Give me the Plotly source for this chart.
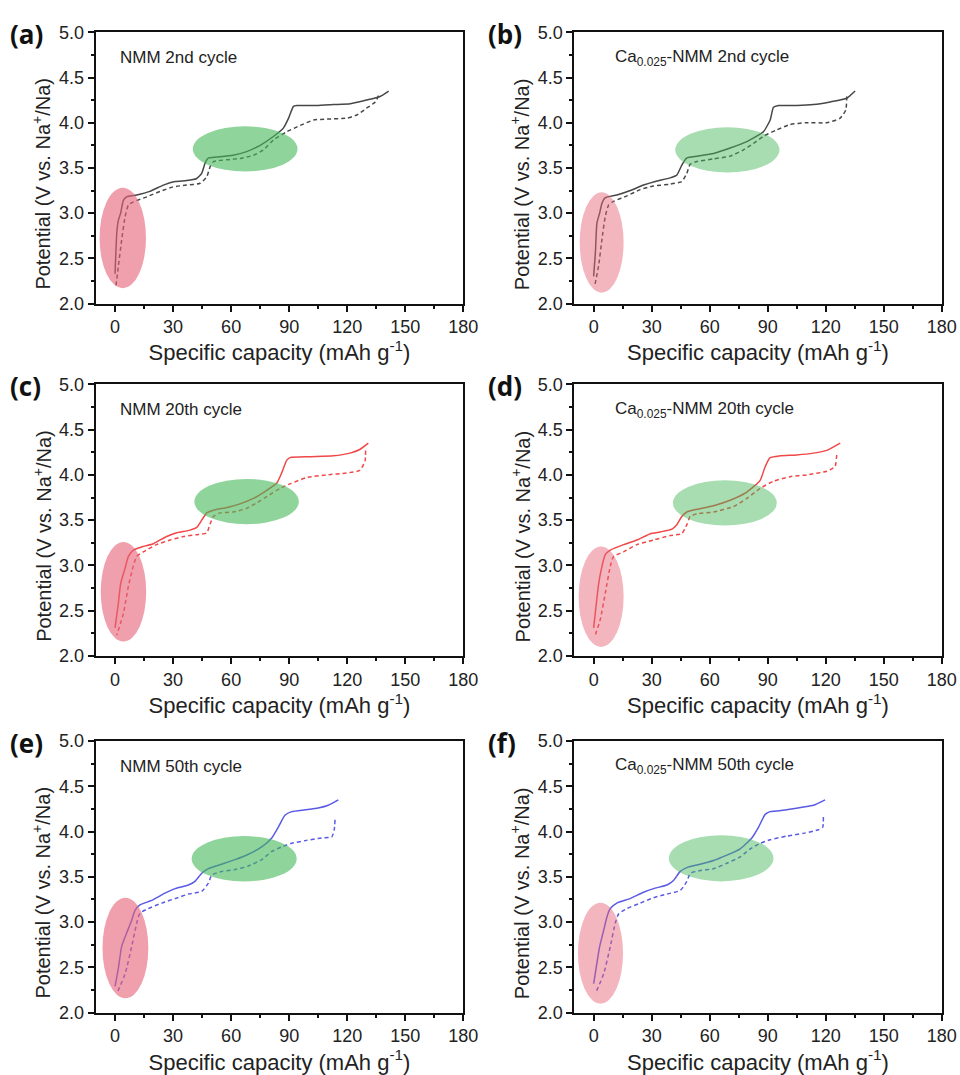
import plotly.graph_objects as go

# ---------------- data (capacity in mAh/g, potential in V) ----------------
a_chg_cap = [0, 0.9, 1.7, 2.9, 4.3, 6, 11.2, 18, 25, 31, 37, 42, 44.8, 46.5, 48.3, 52.6, 61, 68, 75, 82, 87, 89.7, 92.2, 94, 104, 113, 121.6, 130, 137, 141.4]
a_chg_v = [2.33, 2.78, 2.92, 3.0, 3.14, 3.18, 3.2, 3.24, 3.31, 3.35, 3.36, 3.38, 3.44, 3.55, 3.61, 3.62, 3.64, 3.68, 3.75, 3.85, 3.94, 4.05, 4.18, 4.19, 4.19, 4.2, 4.21, 4.25, 4.29, 4.35]
a_dis_cap = [136.2, 134.5, 130, 125, 119.8, 109.5, 102.6, 95.7, 88.8, 82, 76.7, 71.6, 64.7, 57.8, 50.9, 49.1, 47.4, 44, 37, 30, 23.3, 16.4, 9.5, 6.9, 5.2, 3.4, 1.7, 0.5]
a_dis_v = [4.30, 4.23, 4.16, 4.085, 4.05, 4.04, 4.03, 3.97, 3.9, 3.81, 3.70, 3.64, 3.605, 3.59, 3.57, 3.51, 3.40, 3.33, 3.31, 3.29, 3.24, 3.18, 3.125, 3.09, 2.96, 2.70, 2.41, 2.20]

b_chg_cap = [0, 0.9, 1.7, 3.1, 4.3, 6, 12, 19, 25.8, 31.9, 39.6, 43, 45.6, 48.2, 53.4, 62, 70.6, 79.2, 87.8, 91.3, 93, 95.6, 105, 113.7, 122.3, 130.9, 135.2]
b_chg_v = [2.30, 2.56, 2.89, 3.0, 3.11, 3.17, 3.2, 3.25, 3.31, 3.35, 3.39, 3.42, 3.53, 3.61, 3.63, 3.66, 3.72, 3.79, 3.90, 4.03, 4.17, 4.19, 4.19, 4.2, 4.23, 4.27, 4.35]
b_dis_cap = [130.9, 130.4, 127.5, 120.6, 110, 101.6, 94.7, 87.8, 82.7, 77.5, 70.6, 62, 53.4, 49.9, 48.2, 45.6, 39.6, 31, 24.1, 17.2, 10.3, 7.75, 6, 4.3, 2.6, 0.5]
b_dis_v = [4.29, 4.14, 4.05, 4.0, 4.0, 3.98, 3.92, 3.85, 3.77, 3.70, 3.63, 3.60, 3.57, 3.54, 3.44, 3.35, 3.32, 3.30, 3.26, 3.19, 3.13, 3.09, 2.96, 2.71, 2.42, 2.19]

c_chg_cap = [0, 1.7, 2.9, 5.2, 6.9, 9.5, 14.6, 19.8, 26.7, 31.9, 38.8, 42.2, 44.8, 47.4, 50.9, 57.8, 64.6, 71.5, 78.4, 83.6, 86.1, 88.7, 90.4, 100.8, 112.8, 121.4, 126.5, 130.9]
c_chg_v = [2.31, 2.58, 2.80, 2.97, 3.10, 3.17, 3.21, 3.24, 3.32, 3.36, 3.39, 3.42, 3.50, 3.58, 3.61, 3.64, 3.68, 3.74, 3.83, 3.91, 4.02, 4.16, 4.19, 4.20, 4.21, 4.24, 4.28, 4.35]
c_dis_cap = [129.5, 129.2, 126.5, 119.6, 109.3, 99, 90.4, 85.2, 78.4, 73.2, 68, 61.1, 54.2, 50.8, 49, 47.4, 42.2, 35.3, 28.4, 21.5, 14.6, 11.2, 9.5, 6.9, 4.3, 0.9]
c_dis_v = [4.27, 4.15, 4.05, 4.02, 4.0, 3.97, 3.90, 3.85, 3.76, 3.69, 3.63, 3.59, 3.58, 3.54, 3.45, 3.36, 3.34, 3.32, 3.28, 3.23, 3.15, 3.10, 3.00, 2.77, 2.47, 2.23]

d_chg_cap = [0, 1.4, 2.6, 4.3, 6, 8.6, 15.5, 22.4, 29.3, 34.4, 40.5, 43, 45.6, 48.2, 53.4, 62, 70.6, 79.2, 86.1, 88.7, 91.3, 96.4, 105, 113.7, 120.6, 127.5]
d_chg_v = [2.31, 2.58, 2.80, 2.99, 3.12, 3.17, 3.23, 3.28, 3.35, 3.37, 3.40, 3.45, 3.54, 3.59, 3.62, 3.66, 3.72, 3.81, 3.94, 4.09, 4.19, 4.21, 4.22, 4.24, 4.27, 4.35]
d_dis_cap = [125.7, 124.8, 120.6, 110.2, 101.6, 93, 86.1, 79.2, 72.3, 62, 53.4, 49.9, 48.2, 45.6, 39.6, 31, 22.4, 15.5, 10.3, 8.6, 6, 3.4, 0.5]
d_dis_v = [4.22, 4.09, 4.04, 4.0, 3.98, 3.93, 3.85, 3.74, 3.65, 3.59, 3.57, 3.54, 3.45, 3.35, 3.33, 3.28, 3.23, 3.15, 3.10, 2.99, 2.69, 2.40, 2.21]

e_chg_cap = [0, 1.7, 3.4, 6, 8.6, 10.3, 12.9, 18.9, 25.8, 31, 37.9, 41.3, 44.8, 48.2, 55.1, 62, 68.9, 75.8, 81, 84.4, 87.8, 91.3, 98.2, 105, 110.2, 115.4]
e_chg_v = [2.29, 2.49, 2.73, 2.88, 3.02, 3.13, 3.19, 3.24, 3.32, 3.37, 3.41, 3.45, 3.54, 3.59, 3.64, 3.69, 3.75, 3.83, 3.93, 4.05, 4.18, 4.22, 4.24, 4.26, 4.29, 4.35]
e_dis_cap = [113.7, 113.3, 112, 106.8, 98.2, 91.3, 86.1, 81, 75.8, 68.9, 62, 55.1, 50, 48.2, 44.8, 37.9, 31, 24.1, 17.2, 12.9, 11.2, 8.6, 5.2, 0.9]
e_dis_v = [4.13, 4.02, 3.94, 3.93, 3.90, 3.87, 3.83, 3.78, 3.69, 3.62, 3.58, 3.56, 3.52, 3.43, 3.34, 3.31, 3.26, 3.21, 3.15, 3.10, 2.99, 2.73, 2.43, 2.21]

f_chg_cap = [0, 1.4, 3.1, 5.2, 6.9, 8.6, 12, 18.9, 25.8, 31, 37.9, 41.3, 44.8, 49.1, 55.1, 62, 68.9, 75.8, 81.8, 85.3, 88.7, 91.3, 99.9, 108.5, 113.7, 119.7]
f_chg_v = [2.32, 2.51, 2.73, 2.91, 3.06, 3.15, 3.21, 3.26, 3.33, 3.37, 3.41, 3.46, 3.56, 3.61, 3.64, 3.68, 3.74, 3.81, 3.93, 4.05, 4.19, 4.22, 4.24, 4.27, 4.29, 4.35]
f_dis_cap = [118.8, 118.5, 116.3, 108.5, 99.9, 91.3, 86.1, 81, 75.8, 68.9, 62, 55.1, 50, 48.2, 44.8, 37.9, 31, 24.1, 17.2, 12.9, 11.2, 8.6, 5.2, 0.9]
f_dis_v = [4.16, 4.05, 4.02, 3.98, 3.95, 3.91, 3.87, 3.81, 3.72, 3.65, 3.59, 3.57, 3.54, 3.45, 3.35, 3.31, 3.27, 3.21, 3.15, 3.09, 2.99, 2.73, 2.43, 2.21]

panel_letters = ["(a)", "(b)", "(c)", "(d)", "(e)", "(f)"]
panel_titles = ["NMM 2nd cycle", "Ca<sub>0.025</sub>-NMM 2nd cycle",
                "NMM 20th cycle", "Ca<sub>0.025</sub>-NMM 20th cycle",
                "NMM 50th cycle", "Ca<sub>0.025</sub>-NMM 50th cycle"]
x_title = "Specific capacity (mAh g<sup>-1</sup>)"
y_title = "Potential (V vs. Na<sup>+</sup>/Na)"

# highlighted regions (capacity range, potential range)
red_cap = [[-8, 16], [-7.2, 15.5], [-7.4, 16.1], [-7.75, 15.5], [-6.5, 17.2], [-8.1, 15.2]]
red_v = [[2.17, 3.28], [2.12, 3.23], [2.16, 3.26], [2.10, 3.21], [2.16, 3.27], [2.10, 3.215]]
green_cap = [[40.2, 94.3], [42.2, 96.1], [41, 95], [41, 94.7], [39.6, 93.9], [38.9, 93]]
green_v = [[3.46, 3.96], [3.45, 3.95], [3.455, 3.955], [3.44, 3.94], [3.45, 3.95], [3.45, 3.96]]

x_ticks = [0, 30, 60, 90, 120, 150, 180]
y_ticks = [2.0, 2.5, 3.0, 3.5, 4.0, 4.5, 5.0]

# ---------------- styling ----------------
W, H = 960, 1075
col_x = [(95.7, 463.3), (574.3, 941.7)]
row_y = [(32.3, 303.5), (384.3, 656.0), (741.0, 1012.7)]
line_colors = ["#474747", "#474747", "#f04848", "#f04848", "#5a5ae6", "#5a5ae6"]
ell_alpha = [0.6, 0.47, 0.6, 0.47, 0.6, 0.47]
label_font = "Liberation Sans, Arial, sans-serif"

data = [(a_chg_cap, a_chg_v, a_dis_cap, a_dis_v), (b_chg_cap, b_chg_v, b_dis_cap, b_dis_v),
        (c_chg_cap, c_chg_v, c_dis_cap, c_dis_v), (d_chg_cap, d_chg_v, d_dis_cap, d_dis_v),
        (e_chg_cap, e_chg_v, e_dis_cap, e_dis_v), (f_chg_cap, f_chg_v, f_dis_cap, f_dis_v)]

fig = go.Figure()
shapes = []
annotations = []
layout = {}

for i in range(6):
    r, c = divmod(i, 2)
    k = "" if i == 0 else str(i + 1)
    xa, ya = "x" + k, "y" + k
    x0, x1 = col_x[c]
    yt, yb = row_y[r]
    chg_x, chg_y, dis_x, dis_y = data[i]
    fig.add_trace(go.Scatter(x=chg_x, y=chg_y, mode="lines", xaxis=xa, yaxis=ya,
                             line=dict(color=line_colors[i], width=1.5, shape="spline", smoothing=0.5),
                             showlegend=False, hoverinfo="skip"))
    fig.add_trace(go.Scatter(x=dis_x, y=dis_y, mode="lines", xaxis=xa, yaxis=ya,
                             line=dict(color=line_colors[i], width=1.5, dash="4px,3px", shape="spline", smoothing=0.5),
                             showlegend=False, hoverinfo="skip"))
    axis_common = dict(showline=True, linecolor="#111", linewidth=2, mirror=True, automargin=False,
                       ticks="outside", ticklen=6, tickwidth=1.5, tickcolor="#111",
                       showgrid=False, zeroline=False,
                       tickfont=dict(family=label_font, size=18, color="#222"))
    layout["xaxis" + k] = dict(axis_common, domain=[x0 / W, x1 / W], anchor=ya,
                               range=[-10, 180], tickvals=x_ticks,
                               minor=dict(ticks="outside", ticklen=3, tickwidth=1.5, tickcolor="#111", dtick=15, tick0=15),
                               title=dict(text=x_title, standoff=6,
                                          font=dict(family=label_font, size=22, color="#222")))
    layout["yaxis" + k] = dict(axis_common, domain=[1 - yb / H, 1 - yt / H], anchor=xa,
                               range=[2.0, 5.0], tickvals=y_ticks, tickformat=".1f",
                               minor=dict(ticks="outside", ticklen=3, tickwidth=1.5, tickcolor="#111", dtick=0.25, tick0=2.25))
    # y-axis title (placed as rotated text beside the axis)
    annotations.append(dict(text=y_title, xref="paper", yref="paper", textangle=-90,
                            x=(x0 - 54) / W, y=1 - ((yt + yb) / 2 + 16) / H,
                            xanchor="center", yanchor="middle", showarrow=False,
                            font=dict(family=label_font, size=20, color="#222")))
    a = ell_alpha[i]
    shapes.append(dict(type="circle", xref=xa, yref=ya, layer="above",
                       x0=red_cap[i][0], x1=red_cap[i][1], y0=red_v[i][0], y1=red_v[i][1],
                       fillcolor=f"rgba(230,97,117,{a})", line=dict(width=0)))
    shapes.append(dict(type="circle", xref=xa, yref=ya, layer="above",
                       x0=green_cap[i][0], x1=green_cap[i][1], y0=green_v[i][0], y1=green_v[i][1],
                       fillcolor=f"rgba(67,183,88,{a})", line=dict(width=0)))
    # panel title inside plot
    annotations.append(dict(text=panel_titles[i], xref=xa, yref=ya, x=1.5 if c == 0 else 10.2, y=4.72,
                            xanchor="left", yanchor="middle", showarrow=False,
                            font=dict(family=label_font, size=17, color="#222")))
    # panel letter
    annotations.append(dict(text="<b>" + panel_letters[i] + "</b>", xref="paper", yref="paper",
                            x=(8 if c == 0 else 486) / W, y=1 - (yt + 2) / H,
                            xanchor="left", yanchor="middle", showarrow=False,
                            font=dict(family="Open Sans, sans-serif", size=26, color="#111")))

fig.update_layout(width=W, height=H, margin=dict(l=0, r=0, t=0, b=0, autoexpand=False),
                  paper_bgcolor="white", plot_bgcolor="white",
                  shapes=shapes, annotations=annotations, **layout)

fig.write_html("out.html")
